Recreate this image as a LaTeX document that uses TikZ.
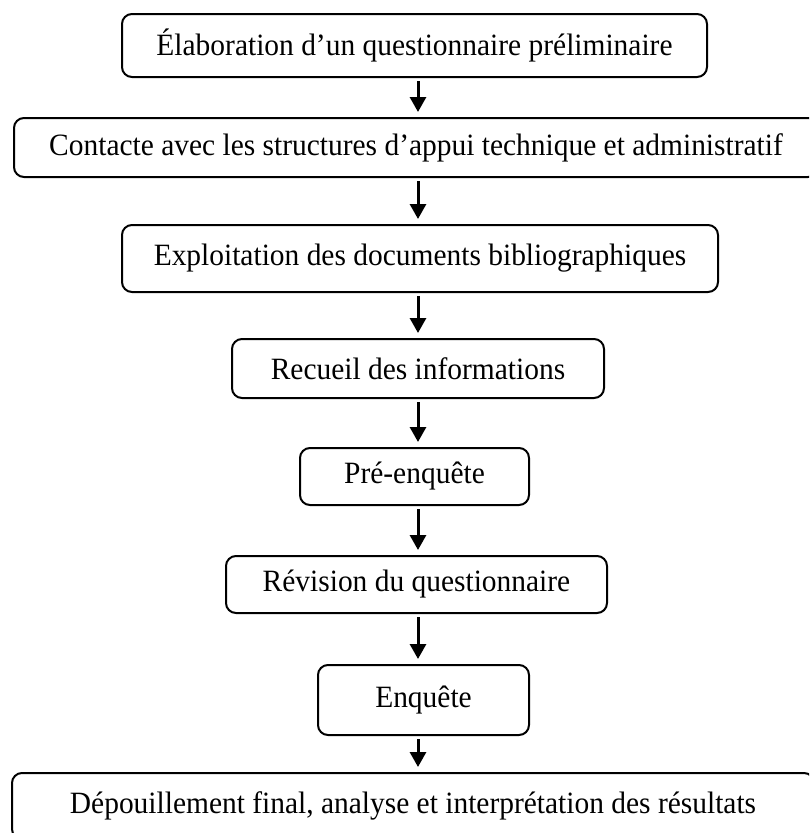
\documentclass[tikz,border=0pt]{standalone}
\usepackage{fontspec}
\setmainfont[FakeStretch=0.95]{Liberation Serif}
\usetikzlibrary{arrows.meta}
\begin{document}
\begin{tikzpicture}[x=1pt,y=-1pt,
  stepbox/.style={draw=black, line width=2pt, rounded corners=10pt, inner sep=0pt,
    font=\fontsize{31}{37}\selectfont, align=center},
  arr/.style={line width=3pt, -{Triangle[length=15pt,width=16pt]}, shorten <=3pt, shorten >=5pt}]
\useasboundingbox (0,0) rectangle (809,833);
\clip (0,0) rectangle (809,833);
\node[stepbox, minimum width=585pt, minimum height=63pt] (n1) at (414.5,45.5) {Élaboration d’un questionnaire préliminaire};
\node[stepbox, minimum width=804pt, minimum height=59pt] (n2) at (416,147.5) {Contacte avec les structures d’appui technique et administratif};
\node[stepbox, minimum width=596pt, minimum height=67pt] (n3) at (420,258.5) {Exploitation des documents bibliographiques};
\node[stepbox, minimum width=372pt, minimum height=59pt] (n4) at (418,368.5) {Recueil des informations};
\node[stepbox, minimum width=229pt, minimum height=57pt] (n5) at (414.5,476.5) {Pré-enquête};
\node[stepbox, minimum width=381pt, minimum height=57pt] (n6) at (416.5,584.5) {Révision du questionnaire};
\node[stepbox, minimum width=211pt, minimum height=70pt] (n7) at (423.5,700) {Enquête};
\node[stepbox, minimum width=802pt, minimum height=66pt] (n8) at (413,806) {Dépouillement final, analyse et interprétation des résultats};
\coordinate (ax) at (418,0);
\draw[arr] (n1.south -| ax) -- (n2.north -| ax);
\draw[arr] (n2.south -| ax) -- (n3.north -| ax);
\draw[arr] (n3.south -| ax) -- (n4.north -| ax);
\draw[arr] (n4.south -| ax) -- (n5.north -| ax);
\draw[arr] (n5.south -| ax) -- (n6.north -| ax);
\draw[arr] (n6.south -| ax) -- (n7.north -| ax);
\draw[arr] (n7.south -| ax) -- (n8.north -| ax);
\end{tikzpicture}
\end{document}
